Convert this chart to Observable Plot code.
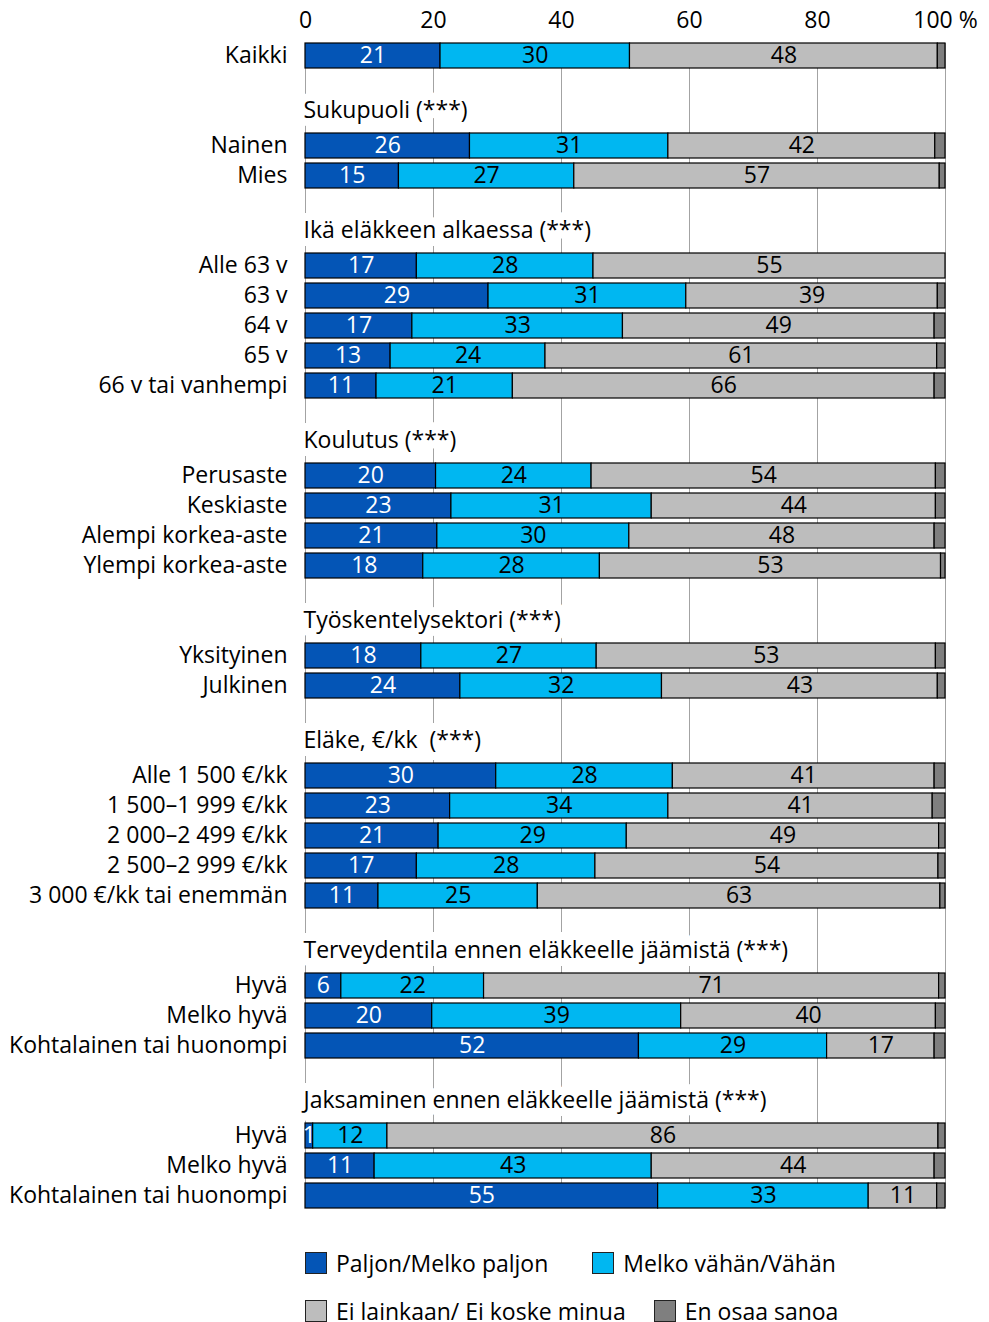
<!DOCTYPE html>
<html>
<head>
<meta charset="utf-8">
<script src="https://cdn.jsdelivr.net/npm/d3@7"></script>
<script src="https://cdn.jsdelivr.net/npm/@observablehq/plot@0.6"></script>
<style>
  html, body { margin: 0; padding: 0; background: #fff; }
  body { width: 989px; font-family: "Open Sans", "Noto Sans", sans-serif; }
  #chart svg { display: block; overflow: visible; }
  .legend { padding-left: 305px; margin-top: 8px; font-size: 23px; color: #000; }
  .legend .row { display: flex; height: 48px; align-items: center; white-space: nowrap; }
  .legend .item { display: flex; align-items: center; gap: 9px; }
  .legend .sw { width: 22px; height: 22px; border: 1px solid #222; box-sizing: border-box; }
</style>
</head>
<body>
<div id="chart"></div>
<div class="legend" id="legend"></div>
<script>
// ---- data ----
const categories = ["Paljon/Melko paljon", "Melko vähän/Vähän", "Ei lainkaan/ Ei koske minua", "En osaa sanoa"];
const colors = ["#0455B6", "#00B7F1", "#BDBDBD", "#7F7F7F"];
const groupTitles = [null, "Sukupuoli (***)", "Ikä eläkkeen alkaessa (***)", "Koulutus (***)",
  "Työskentelysektori (***)", "Eläke, €/kk  (***)", "Terveydentila ennen eläkkeelle jäämistä (***)",
  "Jaksaminen ennen eläkkeelle jäämistä (***)"];
const groupRows = [
  ["Kaikki"],
  ["Nainen", "Mies"],
  ["Alle 63 v", "63 v", "64 v", "65 v", "66 v tai vanhempi"],
  ["Perusaste", "Keskiaste", "Alempi korkea-aste", "Ylempi korkea-aste"],
  ["Yksityinen", "Julkinen"],
  ["Alle 1 500 €/kk", "1 500–1 999 €/kk", "2 000–2 499 €/kk", "2 500–2 999 €/kk", "3 000 €/kk tai enemmän"],
  ["Hyvä", "Melko hyvä", "Kohtalainen tai huonompi"],
  ["Hyvä", "Melko hyvä", "Kohtalainen tai huonompi"]
];
// values in row order (flattened groupRows)
const paljon     = [21.1, 25.7, 14.6, 17.4, 28.6, 16.7, 13.3, 11.1, 20.4, 22.8, 20.6, 18.4, 18.1, 24.2, 29.8, 22.6, 20.8, 17.4, 11.4, 5.6, 19.8, 52.1, 1.2, 10.8, 55.1];
const vahan      = [29.6, 31.0, 27.4, 27.6, 30.9, 32.9, 24.2, 21.3, 24.3, 31.3, 30.0, 27.6, 27.4, 31.5, 27.6, 34.1, 29.4, 27.9, 24.9, 22.3, 38.9, 29.4, 11.6, 43.3, 32.9];
const eiLainkaan = [48.1, 41.7, 57.1, 55.0, 39.3, 48.7, 61.2, 65.9, 53.8, 44.4, 47.7, 53.3, 53.0, 43.1, 40.9, 41.3, 48.8, 53.6, 62.9, 71.1, 39.8, 16.8, 86.1, 44.2, 10.7];
const enOsaa     = [1.2, 1.6, 0.9, 0.0, 1.2, 1.7, 1.3, 1.7, 1.5, 1.5, 1.7, 0.7, 1.5, 1.2, 1.7, 2.0, 1.0, 1.1, 0.8, 1.0, 1.5, 1.7, 1.1, 1.7, 1.3];
const xTicks = [0, 20, 40, 60, 80, 100];

// ---- build slots ----
const series = [paljon, vahan, eiLainkaan, enOsaa];
const slots = [];
const rowLabel = new Map();
const headers = [];
const data = [];
let idx = 0;
groupRows.forEach((rows, gi) => {
  if (gi > 0) {
    slots.push("b" + gi);
    slots.push("h" + gi);
    headers.push({key: "h" + gi, text: groupTitles[gi]});
  }
  rows.forEach(r => {
    const key = "r" + idx;
    slots.push(key);
    rowLabel.set(key, r);
    series.forEach((s, j) => data.push({key, cat: categories[j], ci: j, value: s[idx]}));
    idx++;
  });
});

const step = 30;
const marginTop = 41, marginBottom = 20;
const height = marginTop + slots.length * step + marginBottom;
const font = "'Open Sans', 'Noto Sans', sans-serif";

const chart = Plot.plot({
  width: 989,
  height,
  marginTop,
  marginBottom,
  marginLeft: 305,
  marginRight: 44,
  style: {fontFamily: font, fontSize: "23px", color: "#000", background: "#fff"},
  x: {domain: [0, 100], label: null},
  y: {domain: slots, paddingInner: 0.16, paddingOuter: 0.08, label: null},
  color: {domain: categories, range: colors},
  marks: [
    Plot.ruleX(xTicks, {stroke: "#a3a3a3", strokeWidth: 1, insetTop: 2, insetBottom: 4}),
    Plot.text(headers, {x: 0, y: "key", text: "text", textAnchor: "start", dx: -2, dy: -5,
      fill: "black", stroke: "white", strokeWidth: 16}),
    Plot.barX(data, {x: "value", y: "key", fill: "cat", stroke: "black", strokeWidth: 1.2}),
    Plot.text(data, Plot.stackX({x: "value", y: "key", z: "cat",
      text: d => d.ci === 0 ? String(Math.round(d.value)) : "", fill: "white"})),
    Plot.text(data, Plot.stackX({x: "value", y: "key", z: "cat",
      text: d => (d.ci === 1 || d.ci === 2) ? String(Math.round(d.value)) : "", fill: "black"})),
    Plot.axisX({anchor: "top", ticks: xTicks, tickSize: 0, tickPadding: 14, label: null,
      tickFormat: d => d === 100 ? "100 %" : String(d)}),
    Plot.axisY({tickSize: 0, tickPadding: 18, label: null, tickFormat: k => rowLabel.get(k) ?? ""})
  ]
});
document.getElementById("chart").appendChild(chart);

// ---- legend ----
const legend = document.getElementById("legend");
const rowGaps = [44, 28];
[[0, 1], [2, 3]].forEach((pair, ri) => {
  const row = document.createElement("div");
  row.className = "row";
  row.style.gap = rowGaps[ri] + "px";
  pair.forEach(i => {
    const item = document.createElement("div");
    item.className = "item";
    const sw = document.createElement("span");
    sw.className = "sw";
    sw.style.background = colors[i];
    const t = document.createElement("span");
    t.textContent = categories[i];
    item.appendChild(sw);
    item.appendChild(t);
    row.appendChild(item);
  });
  legend.appendChild(row);
});
</script>
</body>
</html>
